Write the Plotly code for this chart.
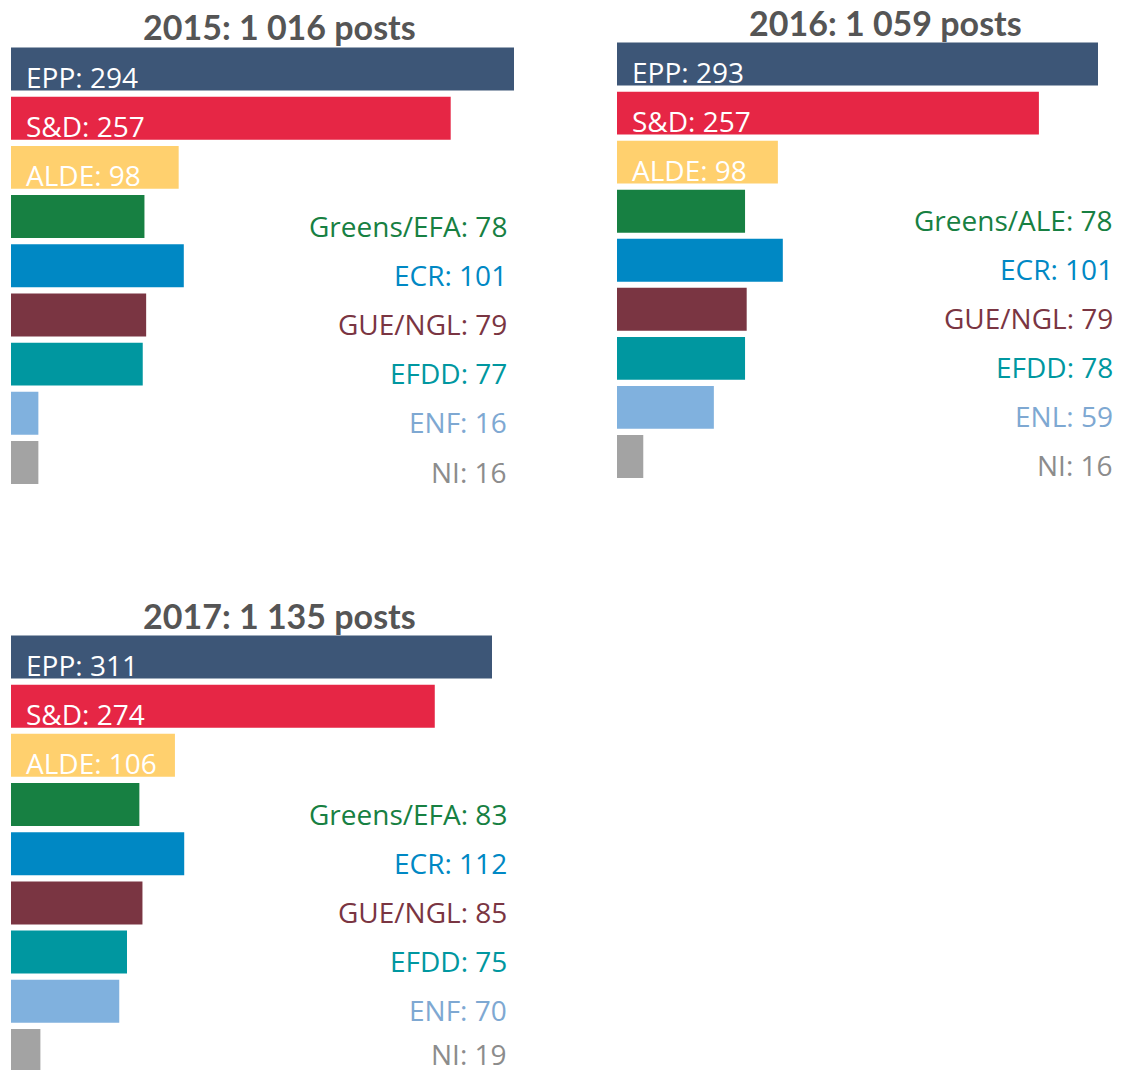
import plotly.graph_objects as go

# ---------------- data ----------------
years = ["2015", "2016", "2017"]
parties_2015 = ["EPP", "S&D", "ALDE", "Greens/EFA", "ECR", "GUE/NGL", "EFDD", "ENF", "NI"]
posts_2015 = [294, 257, 98, 78, 101, 79, 77, 16, 16]
parties_2016 = ["EPP", "S&D", "ALDE", "Greens/ALE", "ECR", "GUE/NGL", "EFDD", "ENL", "NI"]
posts_2016 = [293, 257, 98, 78, 101, 79, 78, 59, 16]
parties_2017 = ["EPP", "S&D", "ALDE", "Greens/EFA", "ECR", "GUE/NGL", "EFDD", "ENF", "NI"]
posts_2017 = [311, 274, 106, 83, 112, 85, 75, 70, 19]

bar_colors = ["#3d5677", "#e62645", "#ffd06e", "#178042", "#0088c4",
              "#7a3542", "#0097a0", "#80b1de", "#a3a3a3"]
label_colors = ["#ffffff", "#ffffff", "#ffffff", "#178042", "#0088c4",
                "#7a3542", "#0097a0", "#7ea8d2", "#8c8c8c"]
n_inside = 3  # first three groups are labelled inside their bar

# ---------------- layout constants (page pixels) ----------------
W, H = 1123, 1070
OFF = 8  # page body margin of the html page


def px_x(v):
    return (v - OFF) / W


def px_y(v):
    return 1 - (v - OFF) / H


panels = [
    dict(x0=11, x1=514, yt=44.4, yb=487.1, lab=509, tx=279, ty=27, yr=[8.5, -0.5], last_shift=-9),
    dict(x0=617, x1=1098, yt=39.5, yb=481.0, lab=1115, tx=885, ty=23, yr=[8.5, -0.5], last_shift=-9),
    dict(x0=11, x1=492, yt=632.4, yb=1078, lab=509, tx=279, ty=615, yr=[8.56, -0.5], last_shift=-4),
]
series = [(parties_2015, posts_2015), (parties_2016, posts_2016), (parties_2017, posts_2017)]

fig = go.Figure()
annotations = []
layout_axes = {}

for i, (year, (parties, posts), p) in enumerate(zip(years, series, panels)):
    suffix = "" if i == 0 else str(i + 1)
    xa, ya = "x" + suffix, "y" + suffix
    fig.add_trace(go.Bar(
        x=posts, y=parties, orientation="h",
        marker=dict(color=bar_colors, line=dict(width=0)),
        xaxis=xa, yaxis=ya, width=0.874, hoverinfo="x+y", showlegend=False,
    ))
    layout_axes["xaxis" + suffix] = dict(
        domain=[px_x(p["x0"]), px_x(p["x1"])], range=[0, max(posts)],
        visible=False, fixedrange=True, anchor=ya,
    )
    layout_axes["yaxis" + suffix] = dict(
        domain=[max(0.0, px_y(p["yb"])), px_y(p["yt"])],
        range=p["yr"], type="category", categoryorder="array", categoryarray=parties,
        visible=False, fixedrange=True, anchor=xa,
    )
    total = sum(posts)
    total_txt = f"{total:,}".replace(",", " ")
    annotations.append(dict(
        text=f"<b>{year}: {total_txt} posts</b>", xref="paper", yref="paper",
        x=px_x(p["tx"]), y=px_y(p["ty"]), xanchor="center", yanchor="middle",
        showarrow=False, font=dict(family="Lato", size=34, color="#555555"),
    ))
    for j, (name, v) in enumerate(zip(parties, posts)):
        txt = f"{name}: {v}"
        if j < n_inside:
            annotations.append(dict(
                text=txt, xref=xa, yref=ya, x=0, y=name, xanchor="left",
                yanchor="middle", xshift=13, yshift=-8, showarrow=False,
                font=dict(family="Open Sans", size=28, color=label_colors[j]),
            ))
        else:
            shift = p["last_shift"] if j == len(parties) - 1 else -9
            annotations.append(dict(
                text=txt, xref="paper", yref=ya, x=px_x(p["lab"]), y=name,
                xanchor="right", yanchor="middle", yshift=shift, showarrow=False,
                font=dict(family="Open Sans", size=28, color=label_colors[j]),
            ))

fig.update_layout(
    width=W, height=H, margin=dict(l=0, r=0, t=0, b=0),
    paper_bgcolor="white", plot_bgcolor="white",
    bargap=0.126, annotations=annotations, **layout_axes,
)
fig.write_html("out.html")
